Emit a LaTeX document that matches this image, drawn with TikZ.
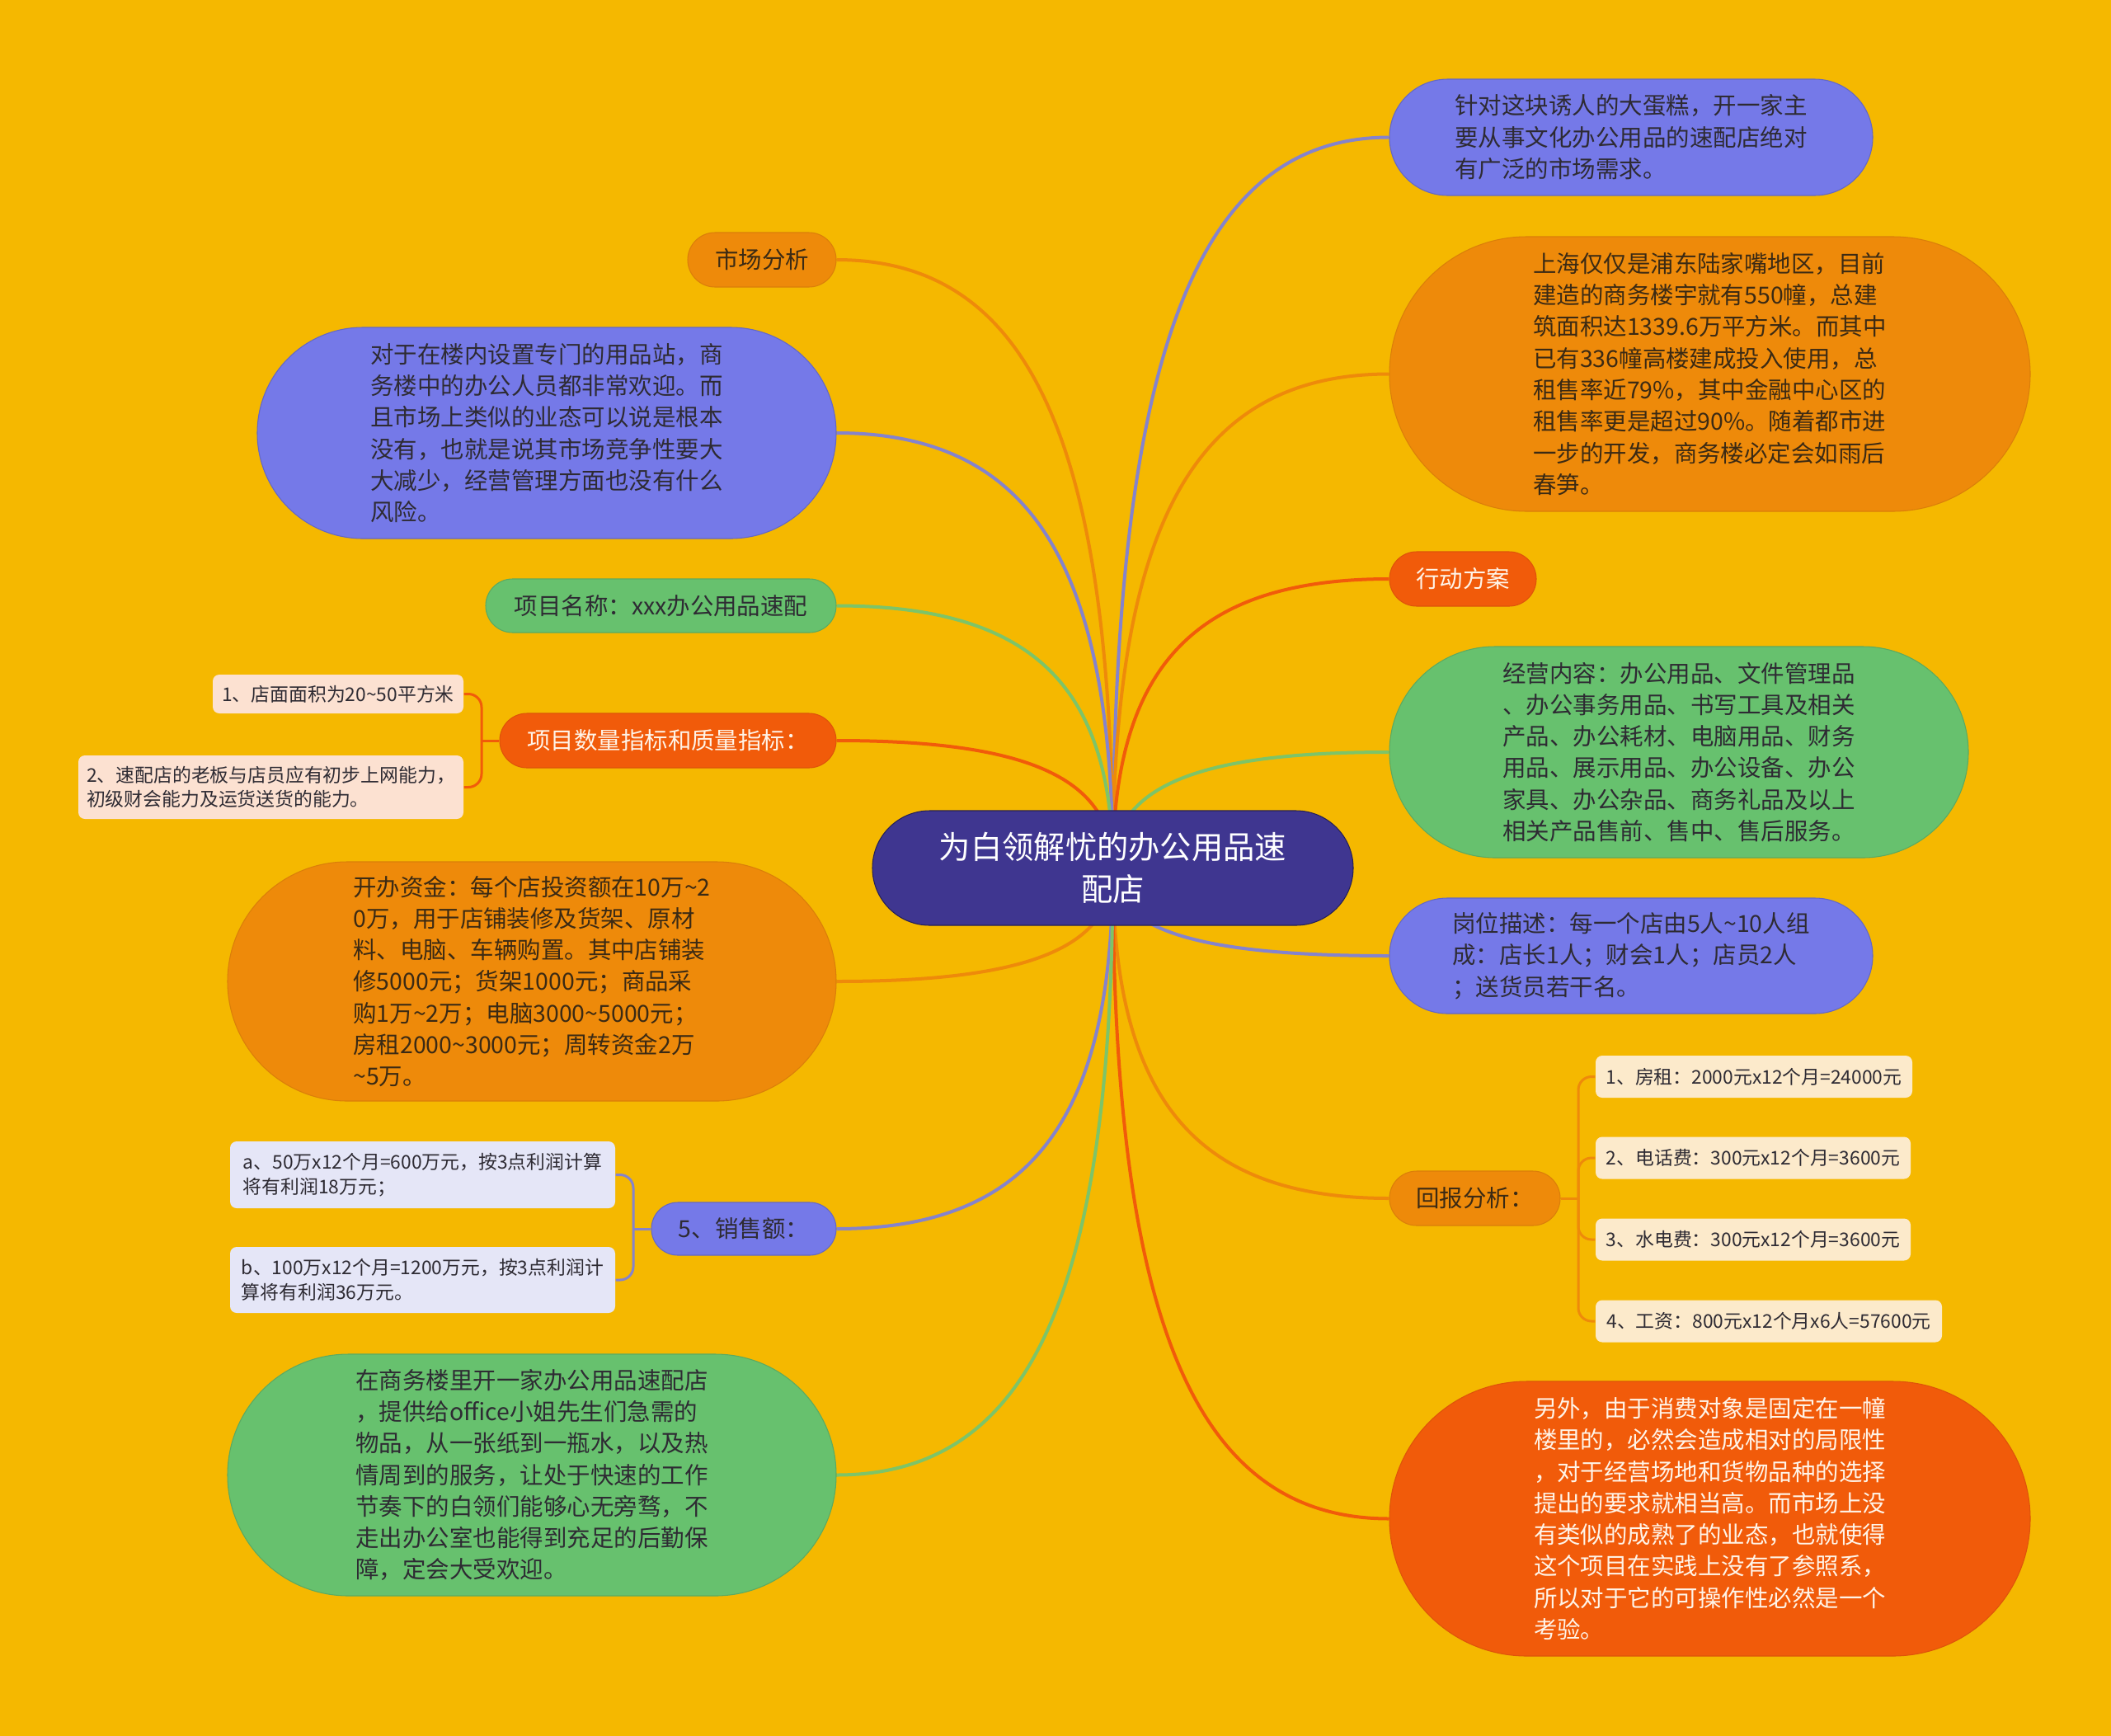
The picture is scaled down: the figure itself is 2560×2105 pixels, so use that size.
\documentclass[tikz,border=0pt]{standalone}
\usepackage{fontspec}
\setmainfont{Noto Sans CJK SC}
\usetikzlibrary{calc}

\definecolor{bgyellow}{HTML}{F5B800}
\definecolor{rootpurple}{HTML}{3F3690}
\definecolor{topicblue}{HTML}{7579E8}
\definecolor{topicorange}{HTML}{EE8A0A}
\definecolor{topicred}{HTML}{F15B0A}
\definecolor{topicgreen}{HTML}{67C16E}
\definecolor{lineblue}{HTML}{8583CC}
\definecolor{linegreen}{HTML}{7DC468}
\definecolor{leafpeach}{HTML}{FCE1D1}
\definecolor{leaflilac}{HTML}{E5E6F7}
\definecolor{leafcream}{HTML}{FCEACB}
\definecolor{inkdark}{HTML}{2E2B33}
\definecolor{inkbrown}{HTML}{3B2A14}
\definecolor{inklight}{HTML}{FFF4E8}

\newcommand{\wave}{\textasciitilde}

\pgfdeclarelayer{bg}
\pgfdeclarelayer{edges}
\pgfsetlayers{bg,edges,main}

\tikzset{
  pill/.style 2 args={minimum width=#1mm, minimum height=#2mm, rounded corners=#2*0.5mm},
  rootnode/.style={rectangle, inner sep=0pt, align=center, fill=rootpurple, draw=rootpurple!60!black,
    line width=0.3pt, text=white, font=\fontsize{10.9pt}{14.4pt}\selectfont},
  topic/.style={rectangle, inner sep=0pt, align=left, line width=0.3pt, font=\fontsize{8.1pt}{10.9pt}\selectfont},
  blue topic/.style={topic, fill=topicblue, draw=topicblue!85!black, text=inkdark},
  orange topic/.style={topic, fill=topicorange, draw=topicorange!92!black, text=inkbrown},
  red topic/.style={topic, fill=topicred, draw=topicred!92!black, text=inklight},
  green topic/.style={topic, fill=topicgreen, draw=topicgreen!88!black, text=inkdark},
  leaf/.style={rectangle, rounded corners=0.8mm, inner sep=0pt, align=left, text=inkdark,
    font=\fontsize{6.5pt}{8.4pt}\selectfont},
  link/.style={line width=0.4mm},
  branch/.style={to path={.. controls ($(\tikztostart)!0.7!(\tikztostart |- \tikztotarget)$)
    and ($(\tikztotarget)!0.7!(\tikztostart |- \tikztotarget)$) .. (\tikztotarget)}},
  brace/.style={line width=0.3mm, rounded corners=1.6mm},
}

\begin{document}
\begin{tikzpicture}[x=0.1mm, y=-0.1mm]
  \useasboundingbox (0,0) rectangle (2560,2105);
  \begin{pgfonlayer}{bg}
    \fill[bgyellow] (0,0) rectangle (2560,2105);
  \end{pgfonlayer}

  % central topic
  \node[rootnode, pill={58.3}{13.9}] (root) at (1349.5,1052.5) {为白领解忧的办公用品速\\配店};

  % right branches
  \node[blue topic, pill={58.6}{14.1}] (need) at (1978,166.5)
    {针对这块诱人的大蛋糕，开一家主\\要从事文化办公用品的速配店绝对\\有广泛的市场需求。};
  \node[orange topic, pill={77.7}{33.3}] (shanghai) at (2073.5,453.5)
    {上海仅仅是浦东陆家嘴地区，目前\\建造的商务楼宇就有550幢，总建\\筑面积达1339.6万平方米。而其中\\已有336幢高楼建成投入使用，总\\租售率近79\%，其中金融中心区的\\租售率更是超过90\%。随着都市进\\一步的开发，商务楼必定会如雨后\\春笋。};
  \node[red topic, pill={17.8}{6.6}] (action) at (1774,702) {行动方案};
  \node[green topic, pill={70.2}{25.6}] (scope) at (2036,912)
    {经营内容：办公用品、文件管理品\\、办公事务用品、书写工具及相关\\产品、办公耗材、电脑用品、财务\\用品、展示用品、办公设备、办公\\家具、办公杂品、商务礼品及以上\\相关产品售前、售中、售后服务。};
  \node[blue topic, pill={58.6}{14.0}] (staff) at (1978,1159)
    {岗位描述：每一个店由5人\wave 10人组\\成：店长1人；财会1人；店员2人\\；送货员若干名。};
  \node[orange topic, pill={20.7}{6.6}] (ret) at (1788.5,1453) {回报分析：};
  \node[red topic, pill={77.7}{33.3}] (note) at (2073.5,1841.5)
    {另外，由于消费对象是固定在一幢\\楼里的，必然会造成相对的局限性\\，对于经营场地和货物品种的选择\\提出的要求就相当高。而市场上没\\有类似的成熟了的业态，也就使得\\这个项目在实践上没有了参照系，\\所以对于它的可操作性必然是一个\\考验。};

  % return items
  \node[leaf, fill=leafcream, minimum width=38.4mm, minimum height=5.1mm] (ra) at (2127,1305.5) {1、房租：2000元x12个月=24000元};
  \node[leaf, fill=leafcream, minimum width=38.2mm, minimum height=5.1mm] (rb) at (2126,1404) {2、电话费：300元x12个月=3600元};
  \node[leaf, fill=leafcream, minimum width=38.2mm, minimum height=5.1mm] (rc) at (2126,1503) {3、水电费：300元x12个月=3600元};
  \node[leaf, fill=leafcream, minimum width=42.0mm, minimum height=5.1mm] (rd) at (2145,1602) {4、工资：800元x12个月x6人=57600元};

  % left branches
  \node[orange topic, pill={18.0}{6.6}] (mkt) at (924,315) {市场分析};
  \node[blue topic, pill={70.2}{25.6}] (adv) at (663,525)
    {对于在楼内设置专门的用品站，商\\务楼中的办公人员都非常欢迎。而\\且市场上类似的业态可以说是根本\\没有，也就是说其市场竞争性要大\\大减少，经营管理方面也没有什么\\风险。};
  \node[green topic, pill={42.5}{6.5}] (pname) at (801.5,734.5) {项目名称：xxx办公用品速配};
  \node[red topic, pill={40.8}{6.6}] (quant) at (810,898) {项目数量指标和质量指标：};
  \node[orange topic, pill={73.8}{29.0}] (fund) at (645,1190)
    {开办资金：每个店投资额在10万\wave 2\\0万，用于店铺装修及货架、原材\\料、电脑、车辆购置。其中店铺装\\修5000元；货架1000元；商品采\\购1万\wave 2万；电脑3000\wave 5000元；\\房租2000\wave 3000元；周转资金2万\\\wave 5万。};
  \node[blue topic, pill={22.4}{6.4}] (sales) at (902,1490) {5、销售额：};
  \node[green topic, pill={73.8}{29.3}] (office) at (645,1788.5)
    {在商务楼里开一家办公用品速配店\\，提供给office小姐先生们急需的\\物品，从一张纸到一瓶水，以及热\\情周到的服务，让处于快速的工作\\节奏下的白领们能够心无旁骛，不\\走出办公室也能得到充足的后勤保\\障，定会大受欢迎。};

  % indicator items
  \node[leaf, fill=leafpeach, minimum width=30.4mm, minimum height=4.7mm] (qa) at (410,841.5) {1、店面面积为20\wave 50平方米};
  \node[leaf, fill=leafpeach, minimum width=46.7mm, minimum height=7.7mm] (qb) at (328.5,954.5)
    {2、速配店的老板与店员应有初步上网能力，\\初级财会能力及运货送货的能力。};

  % sales items
  \node[leaf, fill=leaflilac, minimum width=46.7mm, minimum height=8.1mm] (sa) at (512.5,1424.5)
    {a、50万x12个月=600万元，按3点利润计算\\将有利润18万元；};
  \node[leaf, fill=leaflilac, minimum width=46.7mm, minimum height=8.0mm] (sb) at (512.5,1552)
    {b、100万x12个月=1200万元，按3点利润计\\算将有利润36万元。};

  % bracket joints
  \coordinate (qj) at (584,898);
  \coordinate (sj) at (768,1490);
  \coordinate (rj) at (1914,1453);

  \begin{pgfonlayer}{edges}
    % root to right topics
    \draw[link, lineblue, branch] (root.center) to (need.west);
    \draw[link, topicorange, branch] (root.center) to (shanghai.west);
    \draw[link, topicred, branch] (root.center) to (action.west);
    \draw[link, linegreen, branch] (root.center) to (scope.west);
    \draw[link, lineblue, branch] (root.center) to (staff.west);
    \draw[link, topicorange, branch] (root.center) to (ret.west);
    \draw[link, topicred, branch] (root.center) to (note.west);
    % root to left topics
    \draw[link, topicorange, branch] (root.center) to (mkt.east);
    \draw[link, lineblue, branch] (root.center) to (adv.east);
    \draw[link, linegreen, branch] (root.center) to (pname.east);
    \draw[link, topicred, branch] (root.center) to (quant.east);
    \draw[link, topicorange, branch] (root.center) to (fund.east);
    \draw[link, lineblue, branch] (root.center) to (sales.east);
    \draw[link, linegreen, branch] (root.center) to (office.east);
    % brackets
    \draw[brace, topicred] (quant.west) -- (qj);
    \draw[brace, topicred] (qj) |- (qa.east);
    \draw[brace, topicred] (qj) |- (qb.east);
    \draw[brace, lineblue] (sales.west) -- (sj);
    \draw[brace, lineblue] (sj) |- (sa.east);
    \draw[brace, lineblue] (sj) |- (sb.east);
    \draw[brace, topicorange] (ret.east) -- (rj);
    \draw[brace, topicorange] (rj) |- (ra.west);
    \draw[brace, topicorange] (rj) |- (rb.west);
    \draw[brace, topicorange] (rj) |- (rc.west);
    \draw[brace, topicorange] (rj) |- (rd.west);
  \end{pgfonlayer}
\end{tikzpicture}
\end{document}
